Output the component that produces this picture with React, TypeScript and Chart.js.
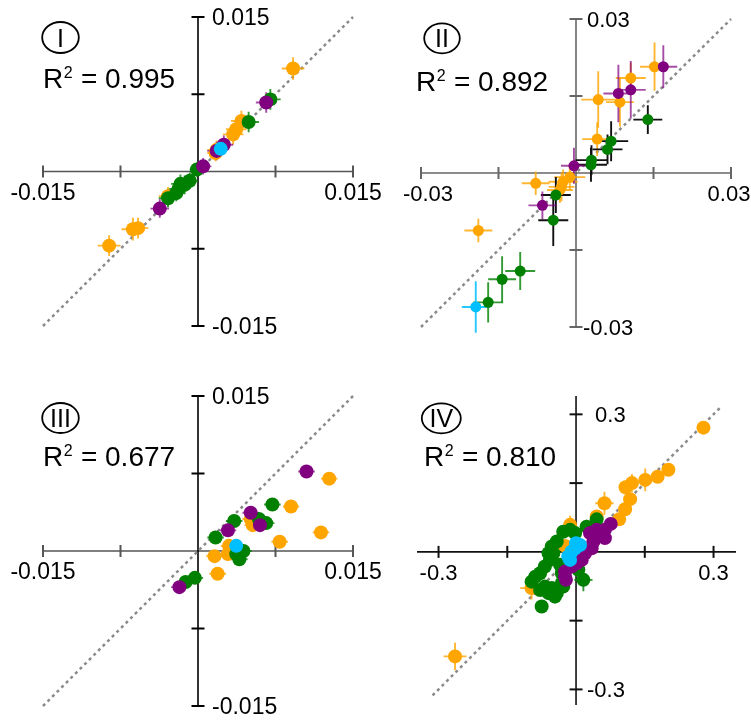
import React, { useEffect, useRef } from "react";
import { Chart, registerables } from "chart.js";

Chart.register(...registerables);

type Pt = [number, number, number, number]; // x, y, xErr, yErr

// ---------- Panel I ----------
const p1Orange: Pt[] = [
  [0.0092, 0.0100, 0.0011, 0.0011],
  [0.0042, 0.0049, 0.0010, 0.0010],
  [0.0037, 0.0041, 0.0010, 0.0010],
  [0.0034, 0.0036, 0.0010, 0.0010],
  [0.0018, 0.0021, 0.0009, 0.0009],
  [0.0017, 0.0018, 0.0008, 0.0008],
  [-0.0029, -0.0024, 0.0009, 0.0009],
  [-0.0058, -0.0055, 0.0010, 0.0010],
  [-0.0063, -0.0056, 0.0011, 0.0011],
  [-0.0086, -0.0072, 0.0011, 0.0010],
];
const p1Green: Pt[] = [
  [0.0070, 0.0070, 0.0010, 0.0010],
  [0.0049, 0.0048, 0.0010, 0.0010],
  [-0.0001, 0.0002, 0.0007, 0.0007],
  [-0.0008, -0.0009, 0.0008, 0.0008],
  [-0.0013, -0.0013, 0.0009, 0.0009],
  [-0.0017, -0.0012, 0.0009, 0.0009],
  [-0.0019, -0.0017, 0.0009, 0.0009],
  [-0.0021, -0.0021, 0.0008, 0.0008],
  [-0.0029, -0.0026, 0.0009, 0.0009],
];
const p1Purple: Pt[] = [
  [0.0066, 0.0067, 0.0010, 0.0010],
  [0.0025, 0.0026, 0.0009, 0.0009],
  [0.0018, 0.0020, 0.0009, 0.0009],
  [0.0005, 0.0005, 0.0008, 0.0008],
  [-0.0037, -0.0036, 0.0009, 0.0009],
];
const p1Blue: Pt[] = [[0.0022, 0.0022, 0.0008, 0.0008]];

// ---------- Panel II ----------
const p2Orange: Pt[] = [
  [0.0152, 0.0207, 0.0028, 0.0047],
  [0.0106, 0.0185, 0.0029, 0.0030],
  [0.0043, 0.0143, 0.0033, 0.0055],
  [0.0085, 0.0138, 0.0027, 0.0048],
  [0.0041, 0.0066, 0.0029, 0.0033],
  [-0.0012, -0.0008, 0.0030, 0.0025],
  [-0.0025, -0.0017, 0.0028, 0.0024],
  [-0.0028, -0.0027, 0.0025, 0.0028],
  [-0.0031, -0.0033, 0.0025, 0.0025],
  [-0.0078, -0.0020, 0.0027, 0.0023],
  [-0.0189, -0.0112, 0.0027, 0.0023],
];
const p2Purple: Pt[] = [
  [0.0169, 0.0207, 0.0027, 0.0042],
  [0.0082, 0.0155, 0.0029, 0.0056],
  [0.0106, 0.0162, 0.0029, 0.0056],
  [-0.0004, 0.0014, 0.0025, 0.0035],
  [-0.0065, -0.0063, 0.0027, 0.0027],
];
const p2GreenBlackErr: Pt[] = [
  [0.0139, 0.0104, 0.0028, 0.0028],
  [0.0068, 0.0062, 0.0033, 0.0039],
  [0.0061, 0.0046, 0.0029, 0.0029],
  [0.0030, 0.0025, 0.0031, 0.0029],
  [0.0029, 0.0016, 0.0031, 0.0033],
  [-0.0039, -0.0043, 0.0029, 0.0035],
  [-0.0044, -0.0092, 0.0029, 0.0050],
];
const p2Green: Pt[] = [
  [-0.0108, -0.0191, 0.0029, 0.0037],
  [-0.0143, -0.0207, 0.0027, 0.0045],
  [-0.0170, -0.0252, 0.0029, 0.0039],
];
const p2Blue: Pt[] = [[-0.0194, -0.0261, 0.0027, 0.0050]];

// ---------- Panel III ----------
const p3Orange: Pt[] = [
  [0.0127, 0.0070, 0.0008, 0.0001],
  [0.0090, 0.0043, 0.0008, 0.0001],
  [0.0051, 0.0031, 0.0008, 0.0001],
  [0.0053, 0.0025, 0.0008, 0.0001],
  [0.0119, 0.0018, 0.0008, 0.0001],
  [0.0079, 0.0009, 0.0008, 0.0001],
  [0.0030, 0.0005, 0.0008, 0.0001],
  [0.0029, -0.0003, 0.0008, 0.0001],
  [0.0016, -0.0005, 0.0008, 0.0001],
  [0.0019, -0.0022, 0.0008, 0.0001],
];
const p3Purple: Pt[] = [
  [0.0105, 0.0077, 0.0008, 0.0001],
  [0.0051, 0.0037, 0.0008, 0.0001],
  [0.0060, 0.0025, 0.0008, 0.0001],
  [0.0029, 0.0020, 0.0008, 0.0001],
  [-0.0018, -0.0035, 0.0008, 0.0001],
];
const p3Green: Pt[] = [
  [0.0072, 0.0045, 0.0008, 0.0001],
  [0.0059, 0.0031, 0.0008, 0.0001],
  [0.0066, 0.0027, 0.0008, 0.0001],
  [0.0035, 0.0029, 0.0008, 0.0001],
  [0.0017, 0.0013, 0.0008, 0.0001],
  [0.0044, 0.0000, 0.0008, 0.0001],
  [0.0037, -0.0003, 0.0008, 0.0001],
  [0.0040, -0.0008, 0.0008, 0.0001],
  [-0.0003, -0.0026, 0.0008, 0.0001],
  [-0.0012, -0.0030, 0.0008, 0.0001],
];
const p3Blue: Pt[] = [[0.0037, 0.0005, 0.0008, 0.0001]];

// ---------- Panel IV ----------
const p4Orange: Pt[] = [
  [0.278, 0.271, 0.010, 0.012],
  [0.2015, 0.179, 0.008, 0.008],
  [0.178, 0.164, 0.008, 0.008],
  [0.151, 0.157, 0.010, 0.025],
  [0.122, 0.150, 0.012, 0.020],
  [0.108, 0.141, 0.010, 0.012],
  [0.118, 0.115, 0.008, 0.010],
  [0.107, 0.093, 0.008, 0.008],
  [0.094, 0.071, 0.008, 0.008],
  [0.062, 0.106, 0.020, 0.025],
  [0.045, 0.077, 0.010, 0.010],
  [-0.013, 0.059, 0.012, 0.020],
  [-0.024, 0.013, 0.010, 0.010],
  [-0.097, -0.079, 0.025, 0.025],
  [-0.264, -0.228, 0.025, 0.030],
];
const p4Green: Pt[] = [
  [0.045, 0.071, 0.008, 0.008],
  [0.023, 0.055, 0.008, 0.015],
  [-0.002, 0.041, 0.008, 0.008],
  [-0.028, 0.044, 0.008, 0.008],
  [-0.013, 0.048, 0.008, 0.008],
  [-0.042, 0.0225, 0.008, 0.008],
  [-0.053, 0.0116, 0.008, 0.008],
  [-0.060, -0.003, 0.008, 0.008],
  [-0.0495, -0.003, 0.008, 0.008],
  [-0.057, -0.0175, 0.008, 0.008],
  [-0.068, -0.032, 0.008, 0.008],
  [-0.0785, -0.0465, 0.008, 0.008],
  [-0.089, -0.054, 0.008, 0.008],
  [-0.097, -0.065, 0.008, 0.008],
  [-0.068, -0.0757, 0.008, 0.008],
  [-0.053, -0.079, 0.008, 0.008],
  [-0.042, -0.090, 0.008, 0.015],
  [-0.031, -0.068, 0.008, 0.008],
  [-0.031, -0.0465, 0.008, 0.008],
  [-0.035, -0.028, 0.008, 0.008],
  [0.016, -0.061, 0.020, 0.025],
  [-0.075, -0.119, 0.008, 0.008],
  [-0.0785, -0.083, 0.008, 0.008],
  [-0.060, -0.090, 0.008, 0.008],
  [-0.046, -0.0975, 0.008, 0.015],
  [-0.028, -0.0757, 0.008, 0.008],
  [0.005, -0.039, 0.008, 0.008],
];
const p4Purple: Pt[] = [
  [0.0757, 0.061, 0.005, 0.005],
  [0.063, 0.048, 0.005, 0.005],
  [0.063, 0.030, 0.005, 0.005],
  [0.045, 0.048, 0.005, 0.005],
  [0.0305, 0.041, 0.005, 0.005],
  [0.038, 0.0225, 0.005, 0.005],
  [0.034, 0.008, 0.005, 0.005],
  [0.0196, -0.003, 0.005, 0.005],
  [0.0124, -0.0175, 0.005, 0.005],
  [0.0015, -0.0247, 0.005, 0.005],
  [-0.0095, -0.032, 0.005, 0.005],
  [-0.024, -0.043, 0.005, 0.005],
  [-0.024, -0.054, 0.005, 0.005],
  [-0.022, -0.061, 0.005, 0.005],
];
const p4Blue: Pt[] = [
  [0.000, 0.019, 0.005, 0.005],
  [0.0087, 0.015, 0.005, 0.005],
  [-0.002, 0.008, 0.005, 0.005],
  [-0.0095, 0.0007, 0.005, 0.005],
  [-0.017, -0.010, 0.005, 0.005],
  [-0.013, -0.0175, 0.005, 0.005],
];

// ---------- Axes / text ----------
const p1Ticks = [-0.015, -0.0075, 0.0075, 0.015];
const p2Ticks = [-0.03, -0.015, 0.015, 0.03];
const p3Ticks = [-0.015, -0.0075, 0.0075, 0.015];
const p4Ticks = [-0.3, -0.15, 0.15, 0.3];
const p1Labels = ["-0.015", "0.015"];
const p2Labels = ["-0.03", "0.03"];
const p3Labels = ["-0.015", "0.015"];
const p4Labels = ["-0.3", "0.3"];
const p1LabelVals = [-0.015, 0.015];
const p2LabelVals = [-0.03, 0.03];
const p3LabelVals = [-0.015, 0.015];
const p4LabelVals = [-0.3, 0.3];
const p1XRange = [-0.015, 0.015];
const p1YRange = [-0.015, 0.015];
const p2XRange = [-0.03, 0.03];
const p2YRange = [-0.03, 0.03];
const p3XRange = [-0.015, 0.015];
const p3YRange = [-0.015, 0.015];
const p4XRange = [-0.347, 0.349];
const p4YRange = [-0.334, 0.34];
const p1Diag = [-0.015, 0.015];
const p2Diag = [-0.03, 0.03];
const p3Diag = [-0.015, 0.015];
const p4Diag = [-0.313, 0.317];
const numerals = ["I", "II", "III", "IV"];
const rSquared = ["0.995", "0.892", "0.677", "0.810"];

const ORANGE = "#FFA500";
const PURPLE = "#800080";
const GREEN = "#008000";
const BLUE = "#00BFFF";

const W = 751;
const H = 721;
const FONT = '"Liberation Sans", Arial, Helvetica, sans-serif';

type Group = { pts: Pt[]; color: string; err: string };

type Panel = {
  groups: Group[]; // first = top
  xr: number[];
  yr: number[];
  xPx: number[];
  yPx: number[];
  ticks: number[];
  labels: string[];
  labelVals: number[];
  diag: number[];
  xAxisColor: string;
  yAxisColor: string;
  circle: number[];
  r2pos: number[];
  yLabDx: number[];
  xLabDx: number[];
  radius: number;
  labelFont: number;
  numeral: string;
  r2: string;
};

const errO = "rgba(255,165,0,0.8)";
const errP = "rgba(128,0,128,0.7)";
const errG = "rgba(0,128,0,0.8)";
const errB = "rgba(0,191,255,0.85)";

const PANELS: Panel[] = [
  {
    groups: [
      { pts: p1Blue, color: BLUE, err: errB },
      { pts: p1Purple, color: PURPLE, err: errP },
      { pts: p1Green, color: GREEN, err: errG },
      { pts: p1Orange, color: ORANGE, err: errO },
    ],
    xr: p1XRange, yr: p1YRange, xPx: [43, 353], yPx: [326, 17],
    ticks: p1Ticks, labels: p1Labels, labelVals: p1LabelVals, diag: p1Diag,
    xAxisColor: "#555", yAxisColor: "#000",
    circle: [60.5, 37.5, 18.3, 15.5], r2pos: [43, 87.5],
    yLabDx: [14, 14], xLabDx: [0, 0], radius: 7, labelFont: 23,
    numeral: numerals[0], r2: rSquared[0],
  },
  {
    groups: [
      { pts: p2Blue, color: BLUE, err: errB },
      { pts: p2Purple, color: PURPLE, err: errP },
      { pts: p2GreenBlackErr, color: GREEN, err: "#111" },
      { pts: p2Green, color: GREEN, err: errG },
      { pts: p2Orange, color: ORANGE, err: errO },
    ],
    xr: p2XRange, yr: p2YRange, xPx: [421, 731], yPx: [327, 19],
    ticks: p2Ticks, labels: p2Labels, labelVals: p2LabelVals, diag: p2Diag,
    xAxisColor: "#666", yAxisColor: "#666",
    circle: [442, 38.3, 17.8, 15], r2pos: [416, 90.5],
    yLabDx: [7, 11], xLabDx: [7, -2], radius: 5.5, labelFont: 22,
    numeral: numerals[1], r2: rSquared[1],
  },
  {
    groups: [
      { pts: p3Blue, color: BLUE, err: errB },
      { pts: p3Purple, color: PURPLE, err: errP },
      { pts: p3Green, color: GREEN, err: errG },
      { pts: p3Orange, color: ORANGE, err: errO },
    ],
    xr: p3XRange, yr: p3YRange, xPx: [43, 353], yPx: [706, 396],
    ticks: p3Ticks, labels: p3Labels, labelVals: p3LabelVals, diag: p3Diag,
    xAxisColor: "#555", yAxisColor: "#000",
    circle: [60.5, 418, 18.3, 15], r2pos: [43, 466],
    yLabDx: [14, 14], xLabDx: [0, 0], radius: 7, labelFont: 23,
    numeral: numerals[2], r2: rSquared[2],
  },
  {
    groups: [
      { pts: p4Blue, color: BLUE, err: errB },
      { pts: p4Purple, color: PURPLE, err: errP },
      { pts: p4Green, color: GREEN, err: errG },
      { pts: p4Orange, color: ORANGE, err: errO },
    ],
    xr: p4XRange, yr: p4YRange, xPx: [417, 736], yPx: [705, 396],
    ticks: p4Ticks, labels: p4Labels, labelVals: p4LabelVals, diag: p4Diag,
    xAxisColor: "#111", yAxisColor: "#111",
    circle: [441.3, 418.3, 19.5, 15], r2pos: [424, 466],
    yLabDx: [11, 19], xLabDx: [0, 0], radius: 7, labelFont: 22,
    numeral: numerals[3], r2: rSquared[3],
  },
];

function decorPlugin(p: Panel) {
  return {
    id: "decor",
    beforeDatasetsDraw(chart: any) {
      const ctx: CanvasRenderingContext2D = chart.ctx;
      const xs = chart.scales.x;
      const ys = chart.scales.y;
      const X = (v: number) => xs.getPixelForValue(v);
      const Y = (v: number) => ys.getPixelForValue(v);
      const x0 = X(0);
      const y0 = Y(0);
      ctx.save();
      // x axis
      ctx.lineWidth = 1.6;
      ctx.strokeStyle = p.xAxisColor;
      ctx.beginPath();
      ctx.moveTo(X(p.xr[0]), y0);
      ctx.lineTo(X(p.xr[1]), y0);
      ctx.stroke();
      ctx.lineWidth = 2;
      for (const t of p.ticks) {
        ctx.beginPath();
        ctx.moveTo(X(t), y0 - 6);
        ctx.lineTo(X(t), y0 + 6);
        ctx.stroke();
      }
      // y axis
      ctx.lineWidth = 1.6;
      ctx.strokeStyle = p.yAxisColor;
      ctx.beginPath();
      ctx.moveTo(x0, Y(p.yr[0]));
      ctx.lineTo(x0, Y(p.yr[1]));
      ctx.stroke();
      ctx.lineWidth = 2;
      for (const t of p.ticks) {
        ctx.beginPath();
        ctx.moveTo(x0 - 6.5, Y(t));
        ctx.lineTo(x0 + 6.5, Y(t));
        ctx.stroke();
      }
      // diagonal
      ctx.strokeStyle = "#8a8a8a";
      ctx.lineWidth = 2.5;
      ctx.setLineDash([3, 3.5]);
      ctx.beginPath();
      ctx.moveTo(X(p.diag[0]), Y(p.diag[0]));
      ctx.lineTo(X(p.diag[1]), Y(p.diag[1]));
      ctx.stroke();
      ctx.setLineDash([]);
      // error bars (bottom group first)
      ctx.lineWidth = 1.9;
      for (let g = p.groups.length - 1; g >= 0; g--) {
        const grp = p.groups[g];
        ctx.strokeStyle = grp.err;
        for (const [x, y, ex, ey] of grp.pts) {
          ctx.beginPath();
          ctx.moveTo(X(x - ex), Y(y));
          ctx.lineTo(X(x + ex), Y(y));
          ctx.moveTo(X(x), Y(y - ey));
          ctx.lineTo(X(x), Y(y + ey));
          ctx.stroke();
        }
      }
      ctx.restore();
    },
    afterDatasetsDraw(chart: any) {
      const ctx: CanvasRenderingContext2D = chart.ctx;
      const xs = chart.scales.x;
      const ys = chart.scales.y;
      const X = (v: number) => xs.getPixelForValue(v);
      const Y = (v: number) => ys.getPixelForValue(v);
      const x0 = X(0);
      const y0 = Y(0);
      ctx.save();
      ctx.fillStyle = "#000";
      ctx.font = `${p.labelFont}px ${FONT}`;
      // x-axis labels
      ctx.textAlign = "center";
      ctx.textBaseline = "middle";
      p.labelVals.forEach((v, i) => {
        ctx.fillText(p.labels[i], X(v) + p.xLabDx[i], y0 + 22);
      });
      // y-axis labels
      ctx.textAlign = "left";
      p.labelVals.forEach((v, i) => {
        ctx.fillText(p.labels[i], x0 + p.yLabDx[i], Y(v) + 1.5);
      });
      // circled numeral
      const [cx, cy, rx, ry] = p.circle;
      ctx.strokeStyle = "#000";
      ctx.lineWidth = 1.8;
      ctx.beginPath();
      ctx.ellipse(cx, cy, rx, ry, 0, 0, Math.PI * 2);
      ctx.stroke();
      ctx.font = `25px ${FONT}`;
      ctx.textAlign = "center";
      ctx.textBaseline = "alphabetic";
      ctx.fillText(p.numeral, cx, cy + 9);
      // R^2
      const [rxp, rb] = p.r2pos;
      ctx.textAlign = "left";
      ctx.font = `28px ${FONT}`;
      ctx.fillText("R", rxp, rb);
      const wR = ctx.measureText("R").width;
      ctx.font = `16px ${FONT}`;
      ctx.fillText("2", rxp + wR + 0.5, rb - 10);
      const w2 = ctx.measureText("2").width;
      ctx.font = `28px ${FONT}`;
      ctx.fillText(" = " + p.r2, rxp + wR + w2 + 1, rb);
      ctx.restore();
    },
  };
}

function PanelChart({ p }: { p: Panel }) {
  const ref = useRef<HTMLCanvasElement>(null);
  useEffect(() => {
    if (!ref.current) return;
    const chart = new Chart(ref.current, {
      type: "scatter",
      data: {
        datasets: p.groups.map((g) => ({
          data: g.pts.map(([x, y]) => ({ x, y })),
          backgroundColor: g.color,
          pointBackgroundColor: g.color,
          pointBorderWidth: 0,
          pointBorderColor: g.color,
          pointRadius: p.radius,
          pointHoverRadius: p.radius,
          clip: false as any,
        })),
      },
      options: {
        animation: false,
        responsive: false,
        maintainAspectRatio: false,
        events: [],
        layout: {
          padding: {
            left: p.xPx[0],
            right: W - p.xPx[1],
            top: p.yPx[1],
            bottom: H - p.yPx[0],
          },
        },
        scales: {
          x: { type: "linear", min: p.xr[0], max: p.xr[1], display: false },
          y: { type: "linear", min: p.yr[0], max: p.yr[1], display: false },
        },
        plugins: { legend: { display: false }, tooltip: { enabled: false } },
      },
      plugins: [decorPlugin(p)],
    });
    return () => chart.destroy();
  }, [p]);
  return (
    <canvas
      ref={ref}
      width={W}
      height={H}
      style={{ position: "absolute", left: 0, top: 0, width: W, height: H }}
    />
  );
}

export default function App() {
  return (
    <div
      style={{
        position: "absolute",
        left: 0,
        top: 0,
        width: W,
        height: H,
        background: "#fff",
        overflow: "hidden",
      }}
    >
      {PANELS.map((p, i) => (
        <PanelChart key={i} p={p} />
      ))}
    </div>
  );
}
